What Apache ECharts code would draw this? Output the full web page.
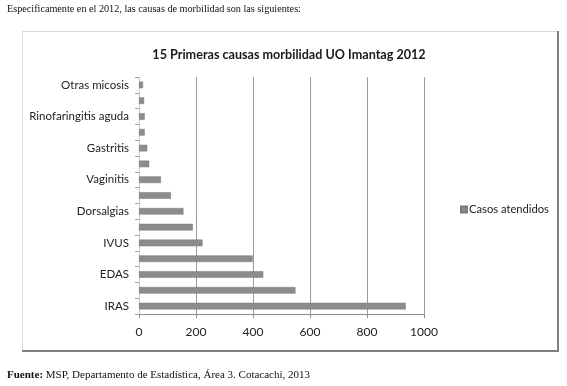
<!DOCTYPE html>
<html>
<head>
<meta charset="utf-8">
<script src="https://cdn.jsdelivr.net/npm/echarts@6/dist/echarts.min.js"></script>
<style>
html,body{margin:0;padding:0;background:#fff;}
#chart{width:567px;height:386px;}
</style>
</head>
<body>
<div id="chart"></div>
<script>
// Categories from bottom to top (unlabelled ones left blank as in the source)
const categories = ["IRAS", "", "EDAS", "", "IVUS", "", "Dorsalgias", "", "Vaginitis", "", "Gastritis", "", "Rinofaringitis aguda", "", "Otras micosis"];
const casosAtendidos = [936, 549, 436, 399, 223, 189, 156, 112, 77, 36, 29, 20, 20, 18, 14];
const xTicks = [0, 200, 400, 600, 800, 1000];
const seriesName = "Casos atendidos";
const titleText = "15 Primeras causas morbilidad UO Imantag 2012";
const introText = "Especificamente en el 2012, las causas de morbilidad son las siguientes:";
const sourceLabel = "Fuente:";
const sourceText = " MSP, Departamento de Estadística, Área 3. Cotacachi, 2013";

const chart = echarts.init(document.getElementById('chart'), null, {renderer: 'canvas'});
const labelFont = "Lato, 'Open Sans', sans-serif";
chart.setOption({
  animation: false,
  backgroundColor: '#fff',
  title: {
    text: titleText,
    left: 284, top: 43, textAlign: 'center',
    textStyle: {fontFamily: labelFont, fontSize: 12.6, fontWeight: 'bold', color: '#1a1a1a'}
  },
  legend: {
    data: [seriesName],
    left: 455, top: 199,
    itemWidth: 6, itemHeight: 6, itemGap: 4,
    icon: 'rect',
    textStyle: {fontFamily: labelFont, fontSize: 11.2, color: '#222', padding: [0,0,0,-3]}
  },
  grid: {left: 139, right: 143, top: 77, bottom: 72, containLabel: false},
  xAxis: {
    type: 'value', min: xTicks[0], max: xTicks[xTicks.length-1], interval: 200,
    axisLine: {show: true, lineStyle: {color: '#8c8c8c', width: 1}},
    axisTick: {show: true, length: 4, lineStyle: {color: '#8c8c8c'}},
    axisLabel: {fontFamily: labelFont, fontSize: 12, color: '#222', margin: 12, formatter: v => String(v)},
    splitLine: {show: true, lineStyle: {color: '#9a9a9a', width: 1}}
  },
  yAxis: {
    type: 'category', data: categories,
    axisLine: {show: true, lineStyle: {color: '#c8c8c8', width: 1}},
    axisTick: {show: true, length: 4, interval: 0, lineStyle: {color: '#a0a0a0'}},
    axisLabel: {interval: 0, fontFamily: labelFont, fontSize: 11.5, color: '#222', margin: 10},
    splitLine: {show: false}
  },
  series: [{
    name: seriesName, type: 'bar', data: casosAtendidos,
    barCategoryGap: '58%',
    itemStyle: {color: '#8c8c8c', borderColor: '#7a7a7a', borderWidth: 0.5}
  }],
  graphic: [
    {type: 'text', left: 7, top: 4, style: {text: introText, font: "10.2px 'Liberation Serif', serif", fill: '#111'}},
    {type: 'line', shape: {x1: 22, y1: 31.5, x2: 558, y2: 31.5}, style: {stroke: '#d9d9d9', lineWidth: 1}},
    {type: 'line', shape: {x1: 22.5, y1: 31, x2: 22.5, y2: 351}, style: {stroke: '#d9d9d9', lineWidth: 1}},
    {type: 'line', shape: {x1: 558, y1: 31, x2: 558, y2: 352}, style: {stroke: '#808080', lineWidth: 2}},
    {type: 'line', shape: {x1: 22, y1: 351, x2: 559, y2: 351}, style: {stroke: '#808080', lineWidth: 2}},
    {type: 'text', left: 7, top: 370, style: {
      text: '{b|' + sourceLabel + '}{n|' + sourceText + '}',
      rich: {
        b: {font: "bold 11px 'Liberation Serif', serif", fill: '#111'},
        n: {font: "11px 'Liberation Serif', serif", fill: '#111'}
      }
    }}
  ]
});
</script>
</body>
</html>
